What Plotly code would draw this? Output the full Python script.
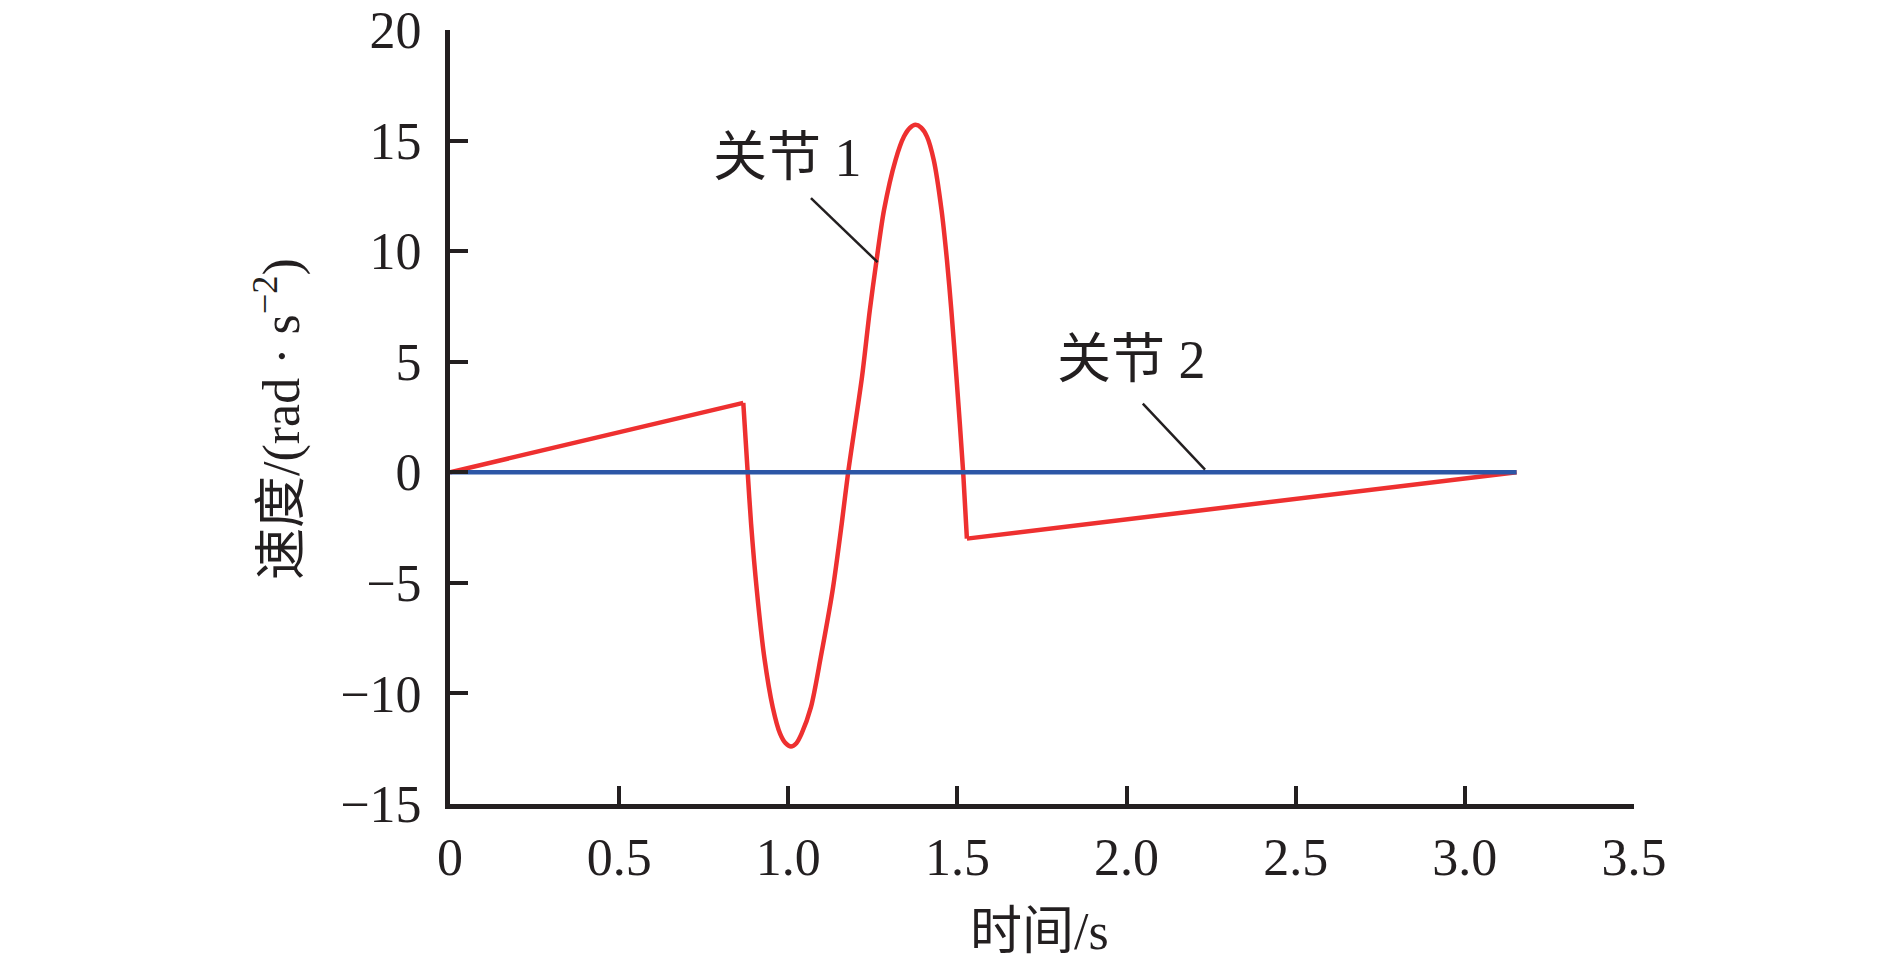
import plotly.graph_objects as go

# ---- data ----
t_joint1 = [0.0, 0.867, 0.880, 0.890, 0.907, 0.929, 0.954, 0.976, 0.992, 1.008,
            1.024, 1.039, 1.067, 1.096, 1.131, 1.158, 1.177, 1.218, 1.241, 1.261,
            1.283, 1.317, 1.342, 1.360, 1.376, 1.393, 1.410, 1.430, 1.453, 1.469,
            1.482, 1.497, 1.517, 1.528, 3.153]
v_joint1 = [0.0, 3.14, 0.0, -2.32, -5.34, -8.36, -10.62, -11.83, -12.25, -12.40,
            -12.25, -11.83, -10.62, -8.36, -5.34, -2.32, 0.0, 4.32, 7.33, 9.60,
            11.86, 14.12, 15.18, 15.58, 15.71, 15.58, 15.18, 14.12, 11.86, 9.60,
            7.33, 4.32, 0.0, -3.00, 0.0]

t_joint2 = [0.0, 3.153]
v_joint2 = [0.0, 0.0]

x_tickvals = [0, 0.5, 1.0, 1.5, 2.0, 2.5, 3.0, 3.5]
x_ticktext = ["0", "0.5", "1.0", "1.5", "2.0", "2.5", "3.0", "3.5"]
y_tickvals = [-15, -10, -5, 0, 5, 10, 15, 20]
y_ticktext = ["\u221215", "\u221210", "\u22125", "0", "5", "10", "15", "20"]

label_texts = ["关节 1", "关节 2"]
label_pos = [(0.999, 14.2), (2.015, 5.1)]
leader_lines = [((1.067, 12.4), (1.264, 9.5)), ((2.048, 3.1), (2.232, 0.12))]

x_title = "时间/s"
y_title = "速度/(rad · s<sup>\u22122</sup>)"

FONT = "Liberation Serif, 'Times New Roman', 'Noto Sans CJK SC', serif"
INK = "#231f20"
RED = "#ee3030"
BLUE = "#2c56a6"

# indices of the two sharp corners of joint 1 (start / end of the curved part)
i0 = 1
i1 = len(t_joint1) - 2

fig = go.Figure()
red_line = dict(color=RED, width=4.5)
fig.add_trace(go.Scatter(x=t_joint1[:i0 + 1], y=v_joint1[:i0 + 1], mode="lines",
                         line=red_line, name="关节 1"))
fig.add_trace(go.Scatter(x=t_joint1[i0:i1 + 1], y=v_joint1[i0:i1 + 1], mode="lines",
                         line=dict(color=RED, width=4.5, shape="spline", smoothing=0.8),
                         name="关节 1"))
fig.add_trace(go.Scatter(x=t_joint1[i1:], y=v_joint1[i1:], mode="lines",
                         line=red_line, name="关节 1"))
fig.add_trace(go.Scatter(x=t_joint2, y=v_joint2, mode="lines",
                         line=dict(color=BLUE, width=4.5), name="关节 2"))

for txt, (lx, ly) in zip(label_texts, label_pos):
    fig.add_annotation(x=lx, y=ly, xref="x", yref="y", text=txt, showarrow=False,
                       font=dict(family=FONT, size=54, color=INK),
                       xanchor="center", yanchor="middle")
for (p0, p1) in leader_lines:
    fig.add_shape(type="line", xref="x", yref="y", x0=p0[0], y0=p0[1], x1=p1[0], y1=p1[1],
                  line=dict(color=INK, width=2.5))

L, R, T, B = 450, 256, 30, 168
W, H = 1890, 972
pw, ph = W - L - R, H - T - B

fig.add_annotation(x=(1039 - L) / pw, y=-(932 - (H - B)) / ph, xref="paper", yref="paper",
                   text=x_title, showarrow=False, xanchor="center", yanchor="middle",
                   font=dict(family=FONT, size=52, color=INK))
fig.add_annotation(x=(278 - L) / pw, y=(H - B - 419) / ph, xref="paper", yref="paper",
                   text=y_title, showarrow=False, textangle=-90, xanchor="center", yanchor="middle",
                   font=dict(family=FONT, size=52, color=INK))

axis_common = dict(showgrid=False, zeroline=False, showline=True, linewidth=5, linecolor=INK,
                   ticks="inside", ticklen=18, tickwidth=4, tickcolor=INK, automargin=False,
                   tickfont=dict(family=FONT, size=52, color=INK))

fig.update_layout(
    template="none",
    width=W, height=H, autosize=False,
    margin=dict(l=L, r=R, t=T, b=B, pad=0),
    paper_bgcolor="white", plot_bgcolor="white",
    showlegend=False,
    xaxis=dict(range=[0, 3.5], tickvals=x_tickvals, ticktext=x_ticktext,
               ticklabelstandoff=4, **axis_common),
    yaxis=dict(range=[-15, 20], tickvals=y_tickvals, ticktext=y_ticktext,
               ticklabelstandoff=13, **axis_common),
)

fig.write_html("out.html", config={"displayModeBar": False},
               post_script="document.body.style.margin='0px';document.body.style.overflow='hidden';")
